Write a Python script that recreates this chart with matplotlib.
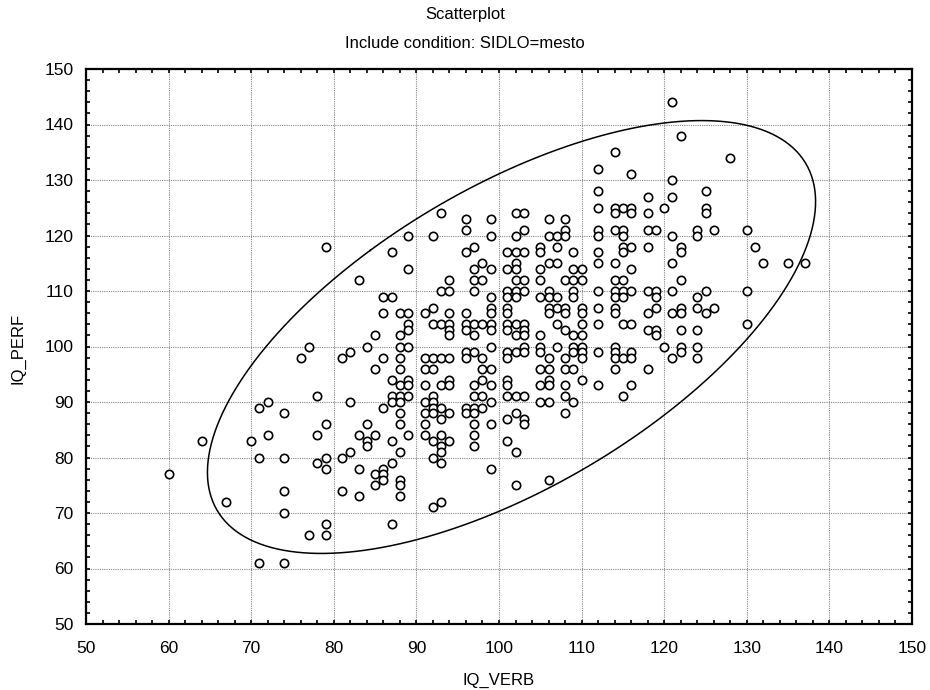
import numpy as np
import matplotlib
matplotlib.use("Agg")
import matplotlib.pyplot as plt
from matplotlib.ticker import MultipleLocator

plt.rcParams["font.family"] = ["Liberation Sans", "DejaVu Sans"]

# IQ_PERF values for each IQ_VERB value
perf_by_verb = {
    60: [77],
    64: [83],
    67: [72],
    70: [83],
    71: [89, 80, 61],
    72: [90, 84],
    74: [88, 80, 74, 70, 61],
    76: [98],
    77: [100, 66],
    78: [91, 84, 79],
    79: [118, 86, 80, 78, 68, 66],
    81: [98, 80, 74],
    82: [99, 81, 90],
    83: [112, 84, 78, 73],
    84: [100, 86, 83, 82],
    85: [102, 96, 84, 77, 75],
    86: [109, 106, 98, 89, 78, 77, 76],
    87: [109, 117, 94, 91, 90, 83, 79, 68],
    88: [106, 102, 100, 98, 96, 93, 91, 90, 88, 86, 81, 76, 75, 73],
    89: [114, 120, 106, 104, 103, 100, 94, 93, 91, 84],
    91: [106, 98, 96, 93, 90, 88, 86, 84],
    92: [120, 107, 104, 98, 96, 91, 90, 89, 88, 83, 80, 71],
    93: [124, 110, 104, 98, 93, 89, 87, 84, 82, 81, 79, 72],
    94: [112, 110, 106, 104, 103, 102, 98, 94, 93, 88, 83],
    96: [123, 121, 117, 106, 104, 103, 99, 98, 89, 88],
    97: [118, 114, 112, 110, 104, 102, 99, 93, 91, 89, 88, 86, 84, 82],
    98: [115, 112, 104, 98, 96, 94, 91, 89],
    99: [123, 120, 114, 109, 107, 106, 104, 103, 100, 96, 93, 90, 86, 78],
    101: [117, 114, 110, 109, 107, 106, 104, 103, 99, 98, 94, 93, 91, 87, 83],
    102: [124, 120, 117, 115, 114, 112, 110, 109, 104, 102, 99, 91, 88, 81, 75],
    103: [124, 121, 117, 112, 110, 104, 103, 102, 100, 99, 91, 87, 86],
    105: [118, 117, 114, 112, 109, 102, 100, 99, 96, 93, 90],
    106: [123, 120, 115, 110, 109, 107, 106, 98, 96, 94, 93, 90, 76],
    107: [120, 118, 115, 109, 107, 104, 100],
    108: [123, 121, 120, 112, 107, 106, 103, 98, 96, 93, 91, 88],
    109: [117, 114, 112, 110, 109, 102, 100, 99, 96, 90],
    110: [114, 112, 107, 106, 104, 102, 100, 99, 98, 94],
    112: [132, 128, 125, 121, 120, 117, 115, 110, 107, 104, 99, 93],
    114: [135, 125, 124, 121, 115, 112, 110, 109, 107, 106, 100, 99, 98, 96],
    115: [125, 121, 120, 118, 117, 112, 110, 109, 104, 98, 91],
    116: [131, 125, 124, 118, 114, 110, 104, 99, 98, 93],
    118: [127, 124, 121, 118, 110, 106, 103, 96],
    119: [121, 110, 109, 107, 103, 102],
    120: [125, 100],
    121: [144, 130, 127, 120, 115, 110, 106, 98],
    122: [138, 118, 117, 112, 107, 106, 103, 100, 99],
    124: [121, 120, 109, 107, 103, 100, 98],
    125: [128, 125, 124, 110, 106],
    126: [121, 107],
    128: [134],
    130: [121, 110, 104],
    131: [118],
    132: [115],
    135: [115],
    137: [115],
}

iq_verb = np.array([v for v, ps in perf_by_verb.items() for _ in ps], dtype=float)
iq_perf = np.array([p for ps in perf_by_verb.values() for p in ps], dtype=float)

fig = plt.figure(figsize=(9.3, 6.9), dpi=100)
ax = fig.add_axes([86 / 930, 66 / 690, 826 / 930, 555 / 690])

ax.scatter(iq_verb, iq_perf, s=36, facecolors="white", edgecolors="black",
           linewidths=1.2, zorder=3)

# confidence ellipse from the sample mean and covariance
mu = np.array([iq_verb.mean(), iq_perf.mean() + 0.3])
cov = np.cov(iq_verb, iq_perf)
vals, vecs = np.linalg.eigh(cov)
k = np.sqrt(6.9)
t = np.linspace(0, 2 * np.pi, 400)
circ = np.vstack([np.cos(t), np.sin(t)])
ell = vecs @ (np.sqrt(vals)[:, None] * k * circ) + mu[:, None]
ax.plot(ell[0], ell[1], color="black", linewidth=1.1, zorder=2)

ax.set_xlim(50, 150)
ax.set_ylim(50, 150)
ax.xaxis.set_major_locator(MultipleLocator(10))
ax.yaxis.set_major_locator(MultipleLocator(10))
ax.xaxis.set_minor_locator(MultipleLocator(2))
ax.yaxis.set_minor_locator(MultipleLocator(2))
ax.tick_params(which="both", direction="in", top=True, right=True,
               labelsize=12.5, color="black", length=3, width=1.2)
ax.tick_params(axis="x", pad=12)
ax.tick_params(axis="y", pad=9)
ax.grid(True, which="major", linestyle=(0, (1, 1)), color="#888888", linewidth=0.8)
for s in ax.spines.values():
    s.set_linewidth(1.6)

fig.text(499 / 930, 1 - 680 / 690, "IQ_VERB", fontsize=12, ha="center", va="center")
fig.text(18 / 930, 1 - 348 / 690, "IQ_PERF", fontsize=12, ha="center", va="center",
         rotation=90)
fig.text(465 / 930, 1 - 14 / 690, "Scatterplot", fontsize=12, ha="center", va="center")
fig.text(465 / 930, 1 - 43 / 690, "Include condition: SIDLO=mesto", fontsize=12,
         ha="center", va="center")

fig.savefig("out.png", dpi=100)
